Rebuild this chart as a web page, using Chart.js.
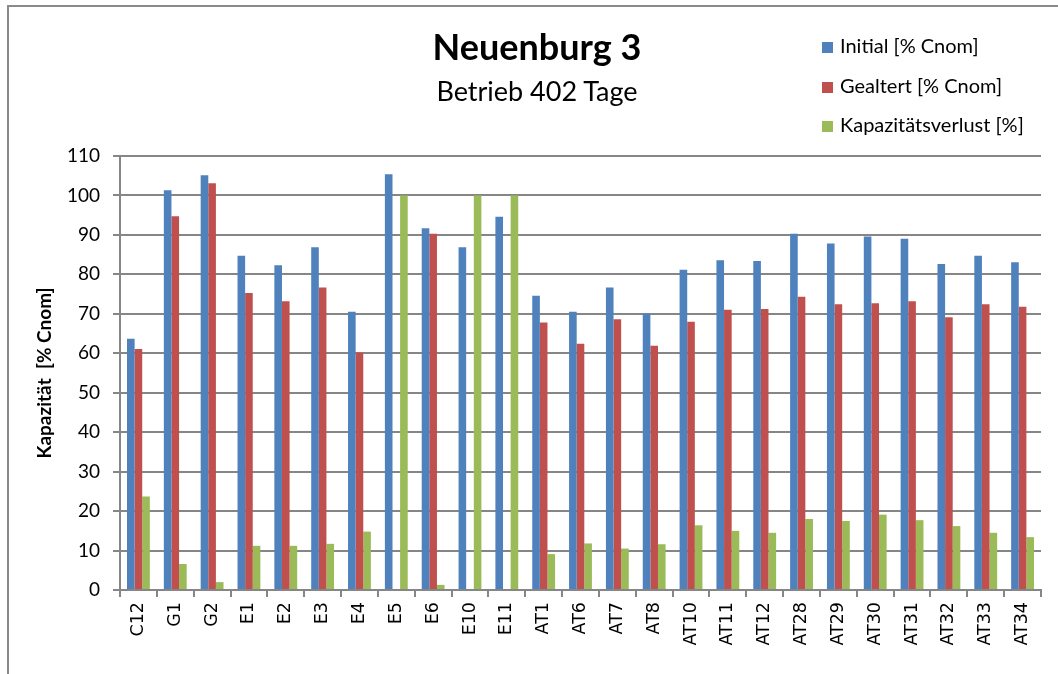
<!DOCTYPE html>
<html>
<head>
<meta charset="utf-8">
<script src="https://cdn.jsdelivr.net/npm/chart.js@4/dist/chart.umd.min.js"></script>
<style>
  html, body { margin: 0; padding: 0; background: #fff; }
  #wrap { position: relative; width: 1058px; height: 674px; overflow: hidden; }
  #frame { position: absolute; left: 7px; top: 5px; width: 1100px; height: 700px;
           border-left: 2px solid #8a8a8a; border-top: 2px solid #8a8a8a; }
  #title { position: absolute; left: 337px; width: 400px; top: 24px; text-align: center;
           font: bold 36px Lato, sans-serif; color: #000; }
  #subtitle { position: absolute; left: 337px; width: 400px; top: 74px; text-align: center;
              font: 27px Lato, sans-serif; color: #000; }
  #legend { position: absolute; left: 822px; top: 33px; font: 20px Lato, sans-serif; color: #000; }
  #legend div { height: 39.5px; line-height: 24px; white-space: nowrap; }
  #legend span { display: inline-block; width: 11px; height: 11px; margin-right: 7px; }
  #c { position: absolute; left: 0; top: 0; }
</style>
</head>
<body>
<div id="wrap">
  <div id="frame"></div>
  <canvas id="c" width="1058" height="674"></canvas>
  <div id="title">Neuenburg 3</div>
  <div id="subtitle">Betrieb 402 Tage</div>
  <div id="legend"></div>
</div>
<script>
const categories = ['C12', 'G1', 'G2', 'E1', 'E2', 'E3', 'E4', 'E5', 'E6', 'E10', 'E11',
  'AT1', 'AT6', 'AT7', 'AT8', 'AT10', 'AT11', 'AT12', 'AT28', 'AT29', 'AT30', 'AT31', 'AT32', 'AT33', 'AT34'];

const initial = [63.7, 101.3, 105.1, 84.7, 82.3, 86.9, 70.5, 105.4, 91.7, 86.9, 94.6,
  74.6, 70.5, 76.7, 70.1, 81.2, 83.6, 83.4, 90.3, 87.8, 89.6, 89.0, 82.6, 84.7, 83.1];
const gealtert = [61.1, 94.7, 103.1, 75.3, 73.2, 76.7, 60.2, 0, 90.3, 0, 0,
  67.8, 62.4, 68.6, 61.9, 68.0, 71.0, 71.2, 74.3, 72.4, 72.7, 73.2, 69.1, 72.4, 71.8];
const verlust = [23.7, 6.6, 2.0, 11.2, 11.2, 11.7, 14.8, 100, 1.3, 100, 100,
  9.1, 11.8, 10.5, 11.6, 16.4, 15.0, 14.5, 18.0, 17.5, 19.1, 17.7, 16.2, 14.5, 13.4];

const yTicks = [0, 10, 20, 30, 40, 50, 60, 70, 80, 90, 100, 110];

const seriesNames = ['Initial [% Cnom]', 'Gealtert [% Cnom]', 'Kapazitätsverlust [%]'];
const seriesColors = ['#4F81BD', '#C0504D', '#9BBB59'];
const seriesData = [initial, gealtert, verlust];

// legend as html, built from the series
const legend = document.getElementById('legend');
seriesNames.forEach((name, i) => {
  const row = document.createElement('div');
  const box = document.createElement('span');
  box.style.background = seriesColors[i];
  row.appendChild(box);
  row.appendChild(document.createTextNode(name));
  legend.appendChild(row);
});

const gridColor = '#868686';

new Chart(document.getElementById('c'), {
  type: 'bar',
  data: {
    labels: categories,
    datasets: seriesData.map((d, i) => ({
      label: seriesNames[i],
      data: d,
      backgroundColor: seriesColors[i],
      borderWidth: 0,
      barPercentage: 1.0,
      categoryPercentage: 0.62
    }))
  },
  options: {
    responsive: false,
    animation: false,
    devicePixelRatio: 1,
    layout: { padding: { top: 156, right: 17, bottom: 0, left: 0 } },
    plugins: {
      legend: { display: false },
      tooltip: { enabled: false }
    },
    scales: {
      x: {
        grid: { offset: true, color: gridColor, lineWidth: 2, drawOnChartArea: false, tickLength: 7 },
        border: { color: gridColor, width: 2 },
        ticks: {
          color: '#000',
          font: { family: 'DejaVu Sans', size: 17.5 },
          minRotation: 90, maxRotation: 90, padding: 5, autoSkip: false
        },
        afterFit: s => { s.height = 84; }
      },
      y: {
        min: 0, max: 110,
        afterBuildTicks: s => { s.ticks = yTicks.map(v => ({ value: v })); },
        grid: { color: gridColor, lineWidth: 2, tickLength: 7 },
        border: { color: gridColor, width: 2 },
        ticks: {
          color: '#000',
          font: { family: 'Lato', size: 19 },
          padding: 13
        },
        title: {
          display: true,
          text: 'Kapazität  [% Cnom]',
          color: '#000',
          font: { family: 'Lato', size: 19, weight: 'bold' },
          padding: { top: 33, bottom: 0 }
        },
        afterFit: s => { s.width = 120; }
      }
    }
  }
});
</script>
</body>
</html>
